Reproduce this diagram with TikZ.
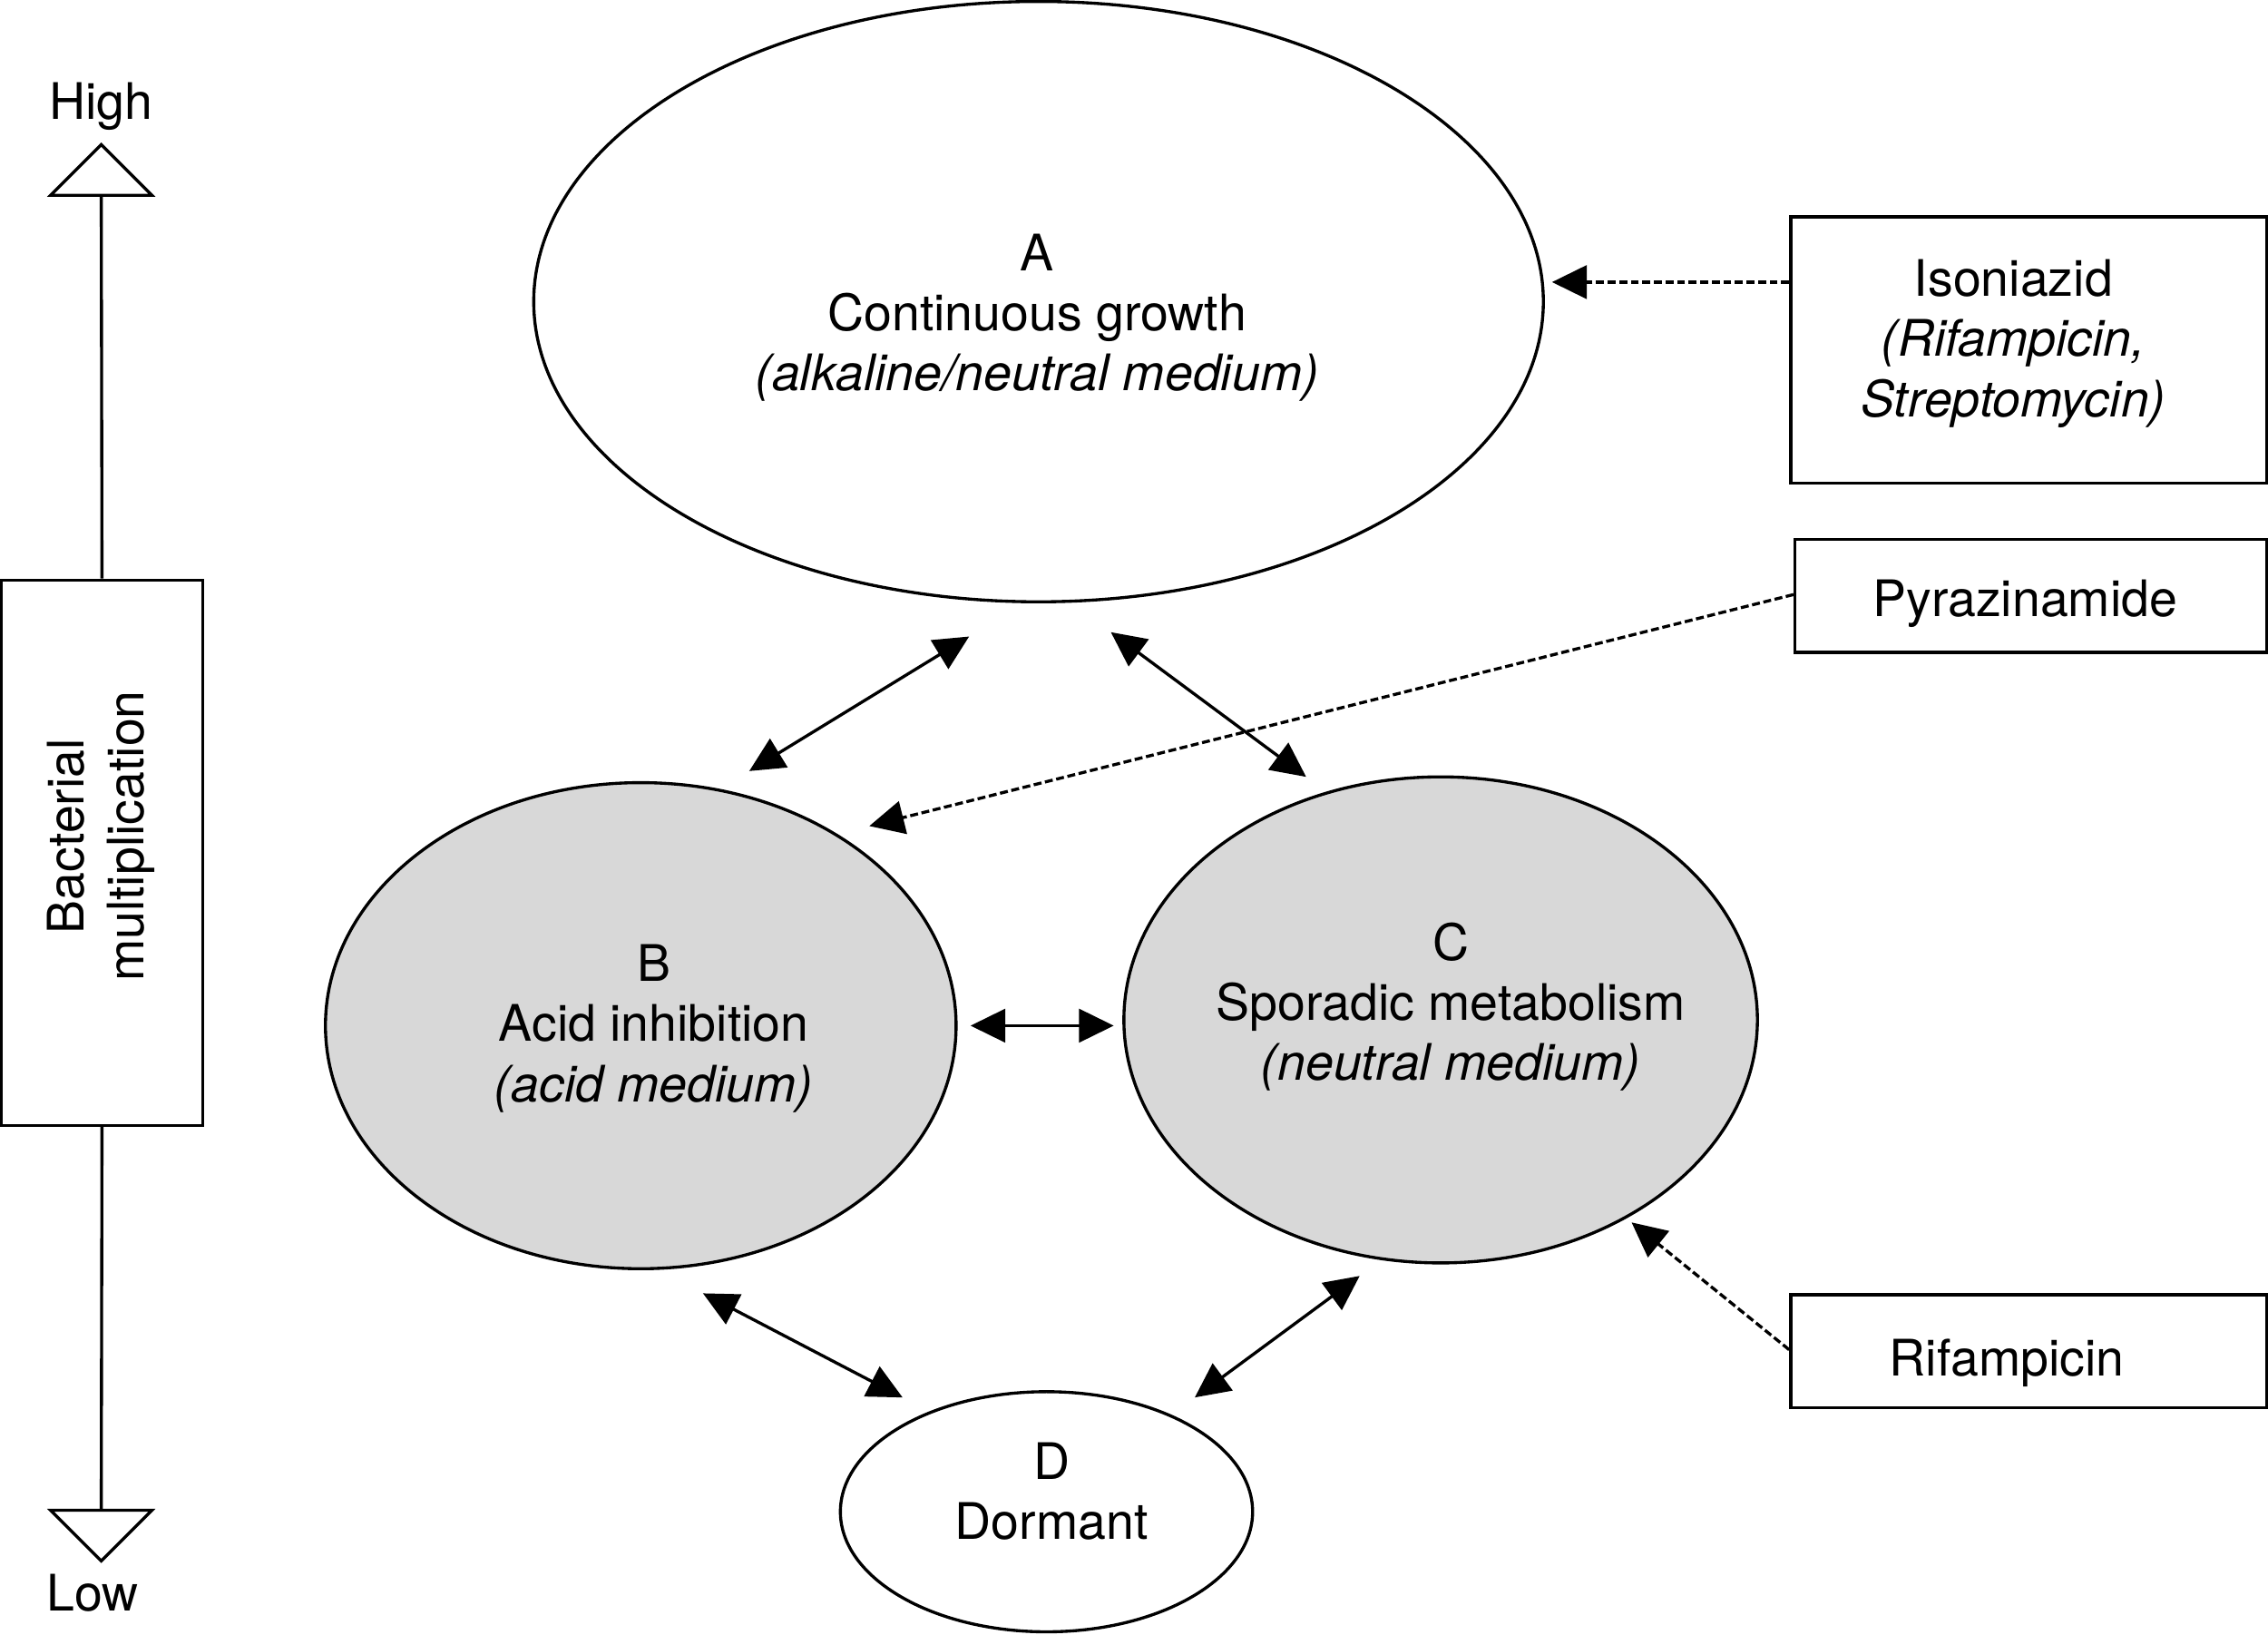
\documentclass[tikz,border=0pt]{standalone}
\usepackage{fontspec}
\setmainfont{TeX Gyre Heros}
\usetikzlibrary{shapes.geometric,arrows.meta,calc}
\definecolor{ellgray}{RGB}{216,216,216}
\begin{document}
\begin{tikzpicture}[x=1pt,y=-1pt,
  ell/.style={draw, ellipse, line width=2.1pt, inner sep=0pt},
  shaded/.style={fill=ellgray},
  box/.style={draw, rectangle, line width=2.1pt, inner sep=0pt},
  txt/.style={font=\fontsize{34.8}{41.5}\selectfont, align=center, inner sep=0pt},
  dbl/.style={line width=2.1pt, {Triangle[length=24pt,width=23pt]}-{Triangle[length=24pt,width=23pt]}},
  drug/.style={line width=2.1pt, dash pattern=on 5.5pt off 2.5pt, -{Triangle[length=24pt,width=23pt]}},
  axisline/.style={line width=2.1pt},
  tri/.style={line width=2.1pt, fill=white, line join=miter}
]
\useasboundingbox (0,0) rectangle (1568,1129.6);

% ellipses
\node[ell, minimum width=698pt, minimum height=415pt] (A) at (718,208.5) {};
\node[ell, shaded, minimum width=436pt, minimum height=336pt] (B) at (443,709) {};
\node[ell, shaded, minimum width=438pt, minimum height=336pt] (C) at (996,705) {};
\node[ell, minimum width=285pt, minimum height=166pt] (D) at (723.5,1045) {};

\node[txt] (At) at (717,219.5) {A\\Continuous growth\\\textit{(alkaline/neutral medium)}};
\node[txt] (Bt) at (452,711) {B\\Acid inhibition\\\textit{(acid medium)}};
\node[txt] (Ct) at (1003,696) {C\\Sporadic metabolism\\\textit{(neutral medium)}};
\node[txt] (Dt) at (727,1031) {D\\Dormant};

% drug boxes
\node[box, minimum width=329pt, minimum height=184pt] (iso) at (1402.5,242) {};
\node[txt] (isot) at (1392,237.5) {Isoniazid\\\textit{(Rifampicin,}\\\textit{Streptomycin)}};
\node[box, minimum width=326pt, minimum height=78pt] (pyr) at (1404,412) {};
\node[txt] (pyrt) at (1400,417.5) {Pyrazinamide};
\node[box, minimum width=329pt, minimum height=78pt] (rif) at (1402.5,934) {};
\node[txt] (rift) at (1387.5,942.5) {Rifampicin};

% left axis
\node[box, minimum width=139pt, minimum height=377pt] (bm) at (70.5,589.5) {};
\node[txt, rotate=90] (bmt) at (70,578) {Bacterial\\multiplication};
\node[txt] (high) at (70,73.5) {High};
\node[txt] (low) at (64,1101) {Low};
\coordinate (topbase) at (70,135);
\coordinate (botbase) at (70,1044);
\draw[axisline] (bm.north) -- (topbase);
\draw[axisline] (bm.south) -- (botbase);
\draw[tri] (35,135) -- (70,100) -- (105,135) -- cycle;
\draw[tri] (35,1044) -- (70,1079) -- (105,1044) -- cycle;

% double arrows
\coordinate (ab1) at (518,533);
\coordinate (ab2) at (670,440);
\coordinate (ac1) at (768,437);
\coordinate (ac2) at (903,537);
\coordinate (bc1) at (671,709);
\coordinate (bc2) at (770,709);
\coordinate (bd1) at (486,894);
\coordinate (bd2) at (624,966);
\coordinate (cd1) at (940,882);
\coordinate (cd2) at (826,966);
\draw[dbl] (ab1) -- (ab2);
\draw[dbl] (ac1) -- (ac2);
\draw[dbl] (bc1) -- (bc2);
\draw[dbl] (bd1) -- (bd2);
\draw[dbl] (cd1) -- (cd2);

% drug arrows
\coordinate (isoS) at ([yshift=47pt]iso.west);
\coordinate (isoT) at (1073,195);
\coordinate (pyrT) at (601,571);
\coordinate (rifS) at ([yshift=1pt]rif.west);
\coordinate (rifT) at (1128,845);
\draw[drug] (isoS) -- (isoT);
\draw[drug] ([yshift=1pt]pyr.west) -- (pyrT);
\draw[drug] (rifS) -- (rifT);
\end{tikzpicture}
\end{document}
